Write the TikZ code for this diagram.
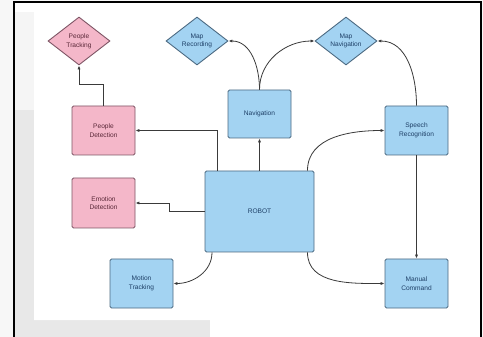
\documentclass[tikz,border=0pt]{standalone}
\usepackage{fontspec}
\setmainfont{Liberation Sans}
\usetikzlibrary{shapes.geometric,arrows.meta}
\definecolor{bfill}{HTML}{A3D3F2}
\definecolor{bdraw}{HTML}{4C6A82}
\definecolor{btext}{HTML}{1E3F66}
\definecolor{pfill}{HTML}{F4B7C9}
\definecolor{pdraw}{HTML}{7E5565}
\definecolor{ptext}{HTML}{5A2838}
\definecolor{lnc}{HTML}{3A3A3A}
\begin{document}
\begin{tikzpicture}[x=1pt,y=-1pt,
  lbl/.style={font=\fontsize{6.6}{8.6}\selectfont,align=center,inner sep=0pt},
  bbox/.style={lbl,rectangle,rounded corners=1.5pt,draw=bdraw,line width=0.9pt,fill=bfill,text=btext,minimum width=63pt,minimum height=49pt},
  pbox/.style={lbl,rectangle,rounded corners=1.5pt,draw=pdraw,line width=0.9pt,fill=pfill,text=ptext,minimum width=63pt,minimum height=49pt},
  bdia/.style={lbl,diamond,draw=bdraw,line width=0.9pt,fill=bfill,text=btext,minimum width=62pt,minimum height=48pt},
  pdia/.style={lbl,diamond,draw=pdraw,line width=0.9pt,fill=pfill,text=ptext,minimum width=62pt,minimum height=48pt},
  arr/.style={draw=lnc,line width=0.8pt,-{Latex[length=4pt,width=3.2pt]}}]
\useasboundingbox (0,0) rectangle (483,337);
% background
\fill[gray!6] (0,0) rectangle (483,337);
\fill[gray!18] (14,2) rectangle (481,337);
\fill[gray!8] (14,2) rectangle (34,110);
\fill[white] (34,2) -- (481,2) -- (481,337) -- (210,337) -- (210,320) -- (34,320) -- cycle;
\fill[white] (14,2) rectangle (34,12);
\draw[black,line width=1.5pt] (14,337) -- (14,2) -- (481,2) -- (481,337);
% nodes
\node[pdia] (pt) at (79,41) {People\\Tracking};
\node[bdia] (mr) at (197,41) {Map\\Recording};
\node[bdia] (mn) at (346,41) {Map\\Navigation};
\node[pbox] (pd) at (103.5,130.5) {People\\Detection};
\node[bbox,minimum height=48pt] (nav) at (259.5,114) {Navigation};
\node[bbox] (sr) at (416.5,130.5) {Speech\\Recognition};
\node[pbox,minimum height=50pt] (ed) at (103.5,203) {Emotion\\Detection};
\node[bbox,minimum width=109pt,minimum height=81pt] (robot) at (259.5,211.5) {ROBOT};
\node[bbox] (mt) at (141.5,283.5) {Motion\\Tracking};
\node[bbox] (mc) at (416.5,283.5) {Manual\\Command};
% connectors
\draw[arr] (pd.north) -- ++(0,-21) -| (pt.south);
\draw[arr] ([xshift=-42.5pt]robot.north) |- (pd.east);
\draw[arr] (robot.north) -- (nav.south);
\draw[arr] ([xshift=48pt]robot.north) to[out=90,in=180] (sr.west);
\draw[arr] (nav.north) to[out=90,in=0] (mr.east);
\draw[arr] (nav.north) to[out=90,in=180] (mn.west);
\draw[arr] (sr.north) to[out=90,in=0] (mn.east);
\draw[arr] (sr.south) -- (mc.north);
\draw[arr] ([xshift=48pt]robot.south) to[out=270,in=180] (mc.west);
\draw[arr] (robot.west) -- ++(-35,0) |- (ed.east);
\draw[arr] ([xshift=-47.5pt]robot.south) to[out=270,in=0] (mt.east);
\end{tikzpicture}
\end{document}
